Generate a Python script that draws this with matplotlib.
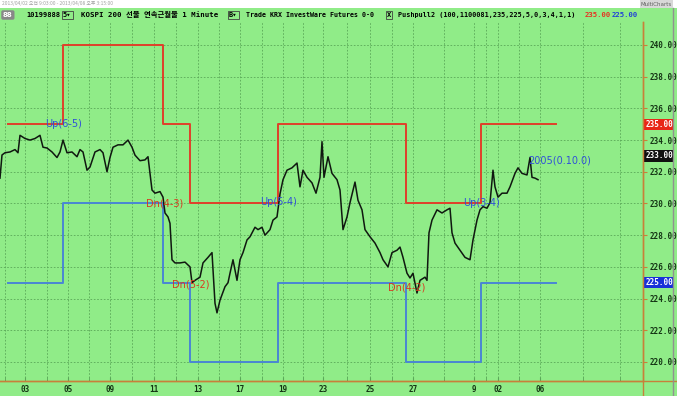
import matplotlib
matplotlib.use("Agg")
import matplotlib.pyplot as plt
from matplotlib.lines import Line2D
from matplotlib.patches import Rectangle
import matplotlib.transforms as mtransforms

# ---- data (x = bar position, y = price) ----
price_x = [0, 2, 5, 10, 15, 18, 20, 25, 30, 35, 40, 43, 47, 52, 57, 60, 63, 67, 72, 77,
           80, 83, 87, 90, 95, 100, 103, 107, 110, 113, 118, 123, 128, 132, 135, 140, 145,
           148, 150, 152, 155, 160, 163, 165, 168, 170, 172, 175, 180, 185, 190, 192, 195,
           200, 203, 208, 212, 215, 217, 220, 225, 228, 230, 233, 237, 240, 243, 247, 250,
           255, 258, 262, 265, 270, 273, 277, 280, 283, 287, 292, 297, 300, 303, 307, 312,
           316, 320, 322, 324, 328, 332, 337, 340, 343, 347, 350, 355, 358, 362, 365, 370,
           375, 380, 383, 388, 392, 397, 400, 403, 407, 410, 413, 417, 420, 425, 427, 429,
           432, 437, 442, 447, 450, 452, 455, 460, 465, 470, 473, 477, 480, 483, 487, 490,
           493, 495, 498, 502, 507, 510, 515, 518, 522, 527, 530, 532, 535, 538]
price_y = [231.6, 233.06, 233.2, 233.25, 233.4, 233.2, 234.3, 234.1, 234.0, 234.1, 234.3,
           233.55, 233.5, 233.25, 232.9, 233.25, 234.0, 233.2, 233.25, 232.95, 233.4, 233.25,
           232.1, 232.3, 233.25, 233.4, 233.2, 232.0, 232.9, 233.55, 233.7, 233.7, 234.0,
           233.55, 233.05, 232.7, 232.75, 232.95, 231.9, 230.85, 230.65, 230.75, 230.4, 229.4,
           229.15, 228.75, 226.45, 226.25, 226.25, 226.3, 226.0, 225.0, 225.15, 225.35, 226.25,
           226.6, 226.9, 223.7, 223.1, 223.9, 224.75, 225.0, 225.6, 226.45, 225.15, 226.45,
           226.9, 227.7, 227.9, 228.5, 228.35, 228.5, 228.0, 228.35, 228.95, 229.15, 230.6,
           231.5, 232.1, 232.25, 232.55, 231.05, 232.1, 231.65, 231.3, 230.65, 231.65, 233.9,
           231.65, 232.95, 231.9, 231.5, 230.85, 228.35, 229.15, 230.05, 231.35, 230.2, 229.6,
           228.35, 227.9, 227.5, 226.9, 226.45, 226.0, 226.9, 227.05, 227.25, 226.6, 225.6,
           225.3, 225.6, 224.35, 225.15, 225.35, 225.15, 228.15, 228.95, 229.6, 229.4, 229.6,
           229.7, 228.15, 227.5, 227.05, 226.6, 226.45, 227.7, 228.95, 229.6, 229.8, 229.7,
           230.05, 232.1, 231.05, 230.4, 230.65, 230.65, 231.05, 231.9, 232.25, 231.9, 231.8,
           232.9, 231.65, 231.6, 231.5]

band_x = [8, 63, 163, 190, 278, 406, 481, 556]
upper_band = [235, 240, 235, 230, 235, 230, 235]
lower_band = [225, 230, 225, 220, 225, 220, 225]

signals = ["Up(6-5)", "Dn(4-3)", "Dn(5-2)", "Up(5-4)", "Dn(4-2)", "Up(3-4)", "2005(0.10.0)"]
signal_x = [64, 165, 191, 279, 407, 481, 560]
signal_y = [235.0, 230.0, 224.9, 230.1, 224.7, 230.0, 232.7]
signal_col = ["#3050d8", "#d83a20", "#d83a20", "#3050d8", "#d83a20", "#3050d8", "#3050d8"]

xtick_pos = [25, 68, 110, 154, 198, 240, 283, 323, 370, 413, 474, 498, 540]
xtick_lab = ["03", "05", "09", "11", "13", "17", "19", "23", "25", "27", "9", "02", "06"]
yticks = [220, 222, 224, 226, 228, 230, 232, 234, 236, 238, 240]

GREEN = "#90ec88"
AXC = "#c8803a"
RED = "#e0402a"
BLUE = "#4a86d4"

W, H = 677, 396
fig = plt.figure(figsize=(W / 100, H / 100), dpi=100)
fig.patch.set_facecolor(GREEN)

ax = fig.add_axes([0, 15 / H, 643 / W, (381 - 22) / H])
ax.set_facecolor(GREEN)
ax.set_xlim(0, 643)
ax.set_ylim(218.8, 241.45)

# grid
ax.set_yticks(yticks)
ax.set_yticklabels(["%.2f" % v for v in yticks])
ax.set_xticks(xtick_pos)
ax.set_xticklabels(xtick_lab)
minor = [(a + b) / 2 for a, b in zip(xtick_pos[:-1], xtick_pos[1:])] + [5, 583, 620]
ax.set_xticks(minor, minor=True)
ax.grid(which="both", axis="x", color="#5aa858", linestyle=(0, (2, 2)), lw=0.6)
ax.grid(which="major", axis="y", color="#5aa858", linestyle=(0, (2, 2)), lw=0.6)
ax.set_axisbelow(True)

for s in ["left", "top"]:
    ax.spines[s].set_visible(False)
ax.spines["right"].set_color(AXC)
ax.spines["bottom"].set_color(AXC)
ax.spines["right"].set_linewidth(1.0)
ax.spines["bottom"].set_linewidth(1.0)

ax.yaxis.tick_right()
ax.tick_params(axis="y", direction="out", length=3, color=AXC, pad=2,
               labelsize=5.5, labelcolor="#143414")
ax.tick_params(axis="x", which="both", direction="in", length=3, color="#5aa858",
               pad=3, labelsize=5.5, labelcolor="#143414")
for lab in ax.get_xticklabels() + ax.get_yticklabels():
    lab.set_fontweight("bold")
    lab.set_family("DejaVu Sans Mono")

# bands
ax.step(band_x, upper_band + [upper_band[-1]], where="post", color=RED, lw=1.4)
ax.step(band_x, lower_band + [lower_band[-1]], where="post", color=BLUE, lw=1.4)

# price
ax.plot(price_x, price_y, color="#101810", lw=1.1)

# signal labels
for t, x, y, c in zip(signals, signal_x, signal_y, signal_col):
    ax.text(x, y, t, color=c, fontsize=7, ha="center", va="center")

# price boxes on the axis
trans = mtransforms.blended_transform_factory(ax.transAxes, ax.transData)
for v, fc in [(235, "#e82818"), (233, "#101010"), (225, "#1830d8")]:
    ax.text(1.004, v, "%.2f" % v, transform=trans, color="white", fontsize=5.5,
            fontweight="bold", family="DejaVu Sans Mono", ha="left", va="center",
            bbox=dict(boxstyle="square,pad=0.15", fc=fc, ec="none"), clip_on=False)

# frame lines outside the axes
fig.add_artist(Line2D([643 / W, 643 / W], [0, 1 - 22 / H], color=AXC, lw=1.0))
fig.add_artist(Line2D([0, 1], [15 / H, 15 / H], color=AXC, lw=1.0))
fig.add_artist(Line2D([673 / W, 673 / W], [0, 1 - 8 / H], color="#909090", lw=1.0))

# top white strip and toolbar
fig.add_artist(Rectangle((0, 1 - 8 / H), 1, 8 / H, transform=fig.transFigure,
                         fc="white", ec="none"))
fig.text(2 / W, 1 - 4 / H, "2013/04/02 오전 9:03:00 - 2013/04/08 오후 3:15:00",
         fontsize=3.5, color="#a0a0a0", va="center", family=["Noto Sans CJK KR", "DejaVu Sans"])
fig.text(672 / W, 1 - 4 / H, "MultiCharts", fontsize=4, color="#606060", va="center", ha="right",
         bbox=dict(boxstyle="square,pad=0.2", fc="#d8d8d8", ec="none"))

ty = 1 - 15 / H
fam = ["DejaVu Sans Mono", "Noto Sans CJK KR"]
fig.text(3 / W, ty, "88", fontsize=5, color="white", fontweight="bold", va="center",
         bbox=dict(boxstyle="round,pad=0.25", fc="#888888", ec="none"))
fig.text(26 / W, ty, "10199888", fontsize=5, fontweight="bold", va="center", family=fam)
fig.text(63 / W, ty, "5▾", fontsize=5, fontweight="bold", va="center", family=fam,
         bbox=dict(boxstyle="square,pad=0.15", fc="none", ec="#404040", lw=0.6))
fig.text(81 / W, ty, "KOSPI 200 선물 연속근월물 1 Minute", fontsize=5.3, fontweight="bold",
         va="center", family=fam)
fig.text(229 / W, ty, "B▾", fontsize=5, fontweight="bold", va="center", family=fam,
         bbox=dict(boxstyle="square,pad=0.15", fc="none", ec="#404040", lw=0.6))
fig.text(246 / W, ty, "Trade KRX InvestWare Futures 0-0", fontsize=4.8, fontweight="bold",
         va="center", family=fam)
fig.text(387 / W, ty, "X", fontsize=5, fontweight="bold", va="center", family=fam,
         bbox=dict(boxstyle="square,pad=0.15", fc="none", ec="#404040", lw=0.6))
fig.text(398 / W, ty, "Pushpull2 (100,1100081,235,225,5,0,3,4,1,1)", fontsize=4.9,
         fontweight="bold", va="center", family=fam)
fig.text(585 / W, ty, "235.00", fontsize=5.2, fontweight="bold", color="#e83020",
         va="center", family=fam)
fig.text(612 / W, ty, "225.00", fontsize=5.2, fontweight="bold", color="#2040d8",
         va="center", family=fam)

fig.savefig("out.png", dpi=100, facecolor=fig.get_facecolor())
